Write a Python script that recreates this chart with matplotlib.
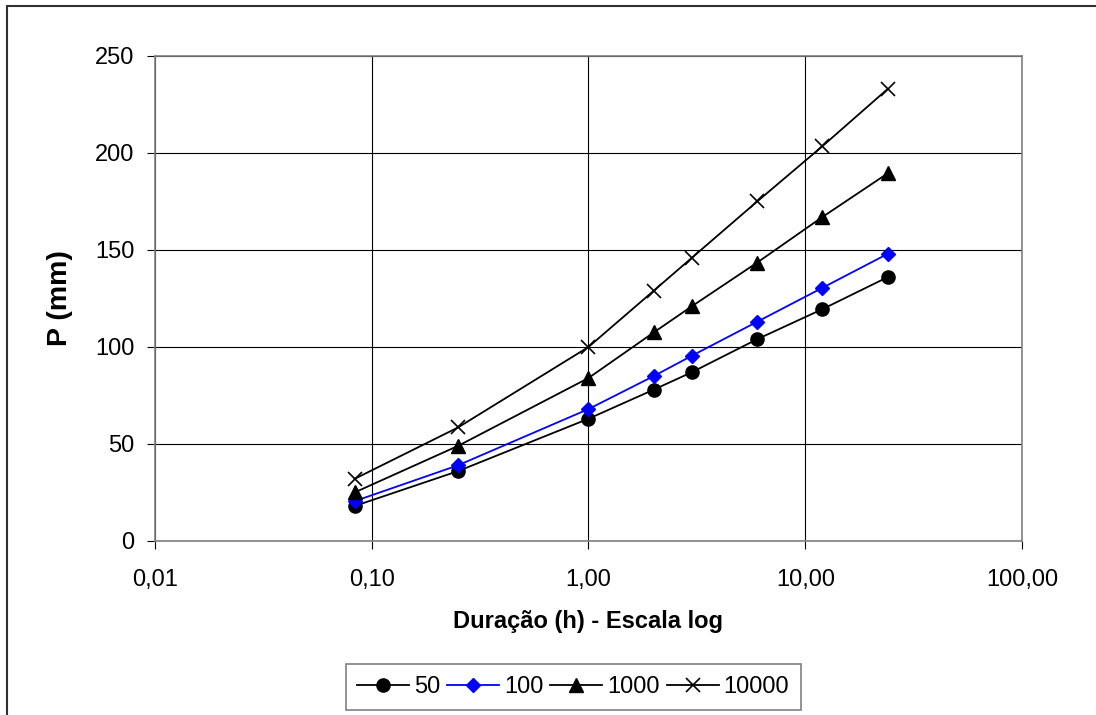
import matplotlib
matplotlib.use("Agg")
import matplotlib.pyplot as plt
from matplotlib.patches import Rectangle
from matplotlib.ticker import FixedLocator, NullLocator, FuncFormatter

plt.rcParams['font.family'] = ['Liberation Sans', 'DejaVu Sans']

# duracao em horas (5 min, 15 min, 1h, 2h, 3h, 6h, 12h, 24h)
duracao = [0.0833, 0.25, 1, 2, 3, 6, 12, 24]

# precipitacao (mm) por periodo de retorno
p50 = [18, 36, 63, 78, 87, 104, 119.5, 136]
p100 = [20.5, 39, 68, 85, 95.5, 113, 130.5, 148]
p1000 = [25, 49, 84, 107.5, 121, 143.5, 167, 189.5]
p10000 = [32, 58.5, 100, 129, 146, 175, 203.5, 233]

x_ticks = [0.01, 0.1, 1, 10, 100]
y_ticks = [0, 50, 100, 150, 200, 250]


def virgula(v, pos):
    return ("%.2f" % v).replace(".", ",")


fig = plt.figure(figsize=(10.96, 7.15), dpi=100)
ax = fig.add_axes([0.1414, 0.2434, 0.7911, 0.6783])

ax.plot(duracao, p50, color='black', lw=1.3, marker='o', ms=9.5, label='50')
ax.plot(duracao, p100, color='#0000ff', lw=1.3, marker='D', ms=7, label='100')
ax.plot(duracao, p1000, color='black', lw=1.3, marker='^', ms=9.5, label='1000')
ax.plot(duracao, p10000, color='black', lw=1.3, marker='x', ms=10, mew=1.2, label='10000')

ax.set_xscale('log')
ax.set_xlim(0.01, 100)
ax.set_ylim(0, 250)
ax.xaxis.set_major_locator(FixedLocator(x_ticks))
ax.xaxis.set_minor_locator(NullLocator())
ax.xaxis.set_major_formatter(FuncFormatter(virgula))
ax.set_yticks(y_ticks)

ax.grid(True, color='black', lw=0.8)
ax.set_axisbelow(True)
for s in ax.spines.values():
    s.set_color('#808080')
    s.set_linewidth(1.2)

ax.tick_params(axis='both', labelsize=17, length=6, width=0.8, color='black')
ax.tick_params(axis='x', pad=14)
ax.tick_params(axis='y', pad=9)

ax.set_xlabel('Duração (h) - Escala log', fontsize=17, fontweight='bold', labelpad=14)
ax.set_ylabel('P (mm)', fontsize=20.5, fontweight='bold', labelpad=16)

leg = fig.legend(loc='center', bbox_to_anchor=(0.523, 0.039), ncol=4, fontsize=17,
                 frameon=True, fancybox=False, framealpha=1, edgecolor='#808080',
                 handlelength=2.2, handletextpad=0.2, columnspacing=0.3,
                 borderpad=0.5, borderaxespad=0)
leg.get_frame().set_linewidth(1.2)

# moldura externa do grafico
fig.patches.append(Rectangle((0.0068, -0.1), 1.2, 0.9923 + 0.1, transform=fig.transFigure,
                             fill=False, lw=1.5, ec='#303030', clip_on=False))

fig.savefig('out.png', dpi=100)
